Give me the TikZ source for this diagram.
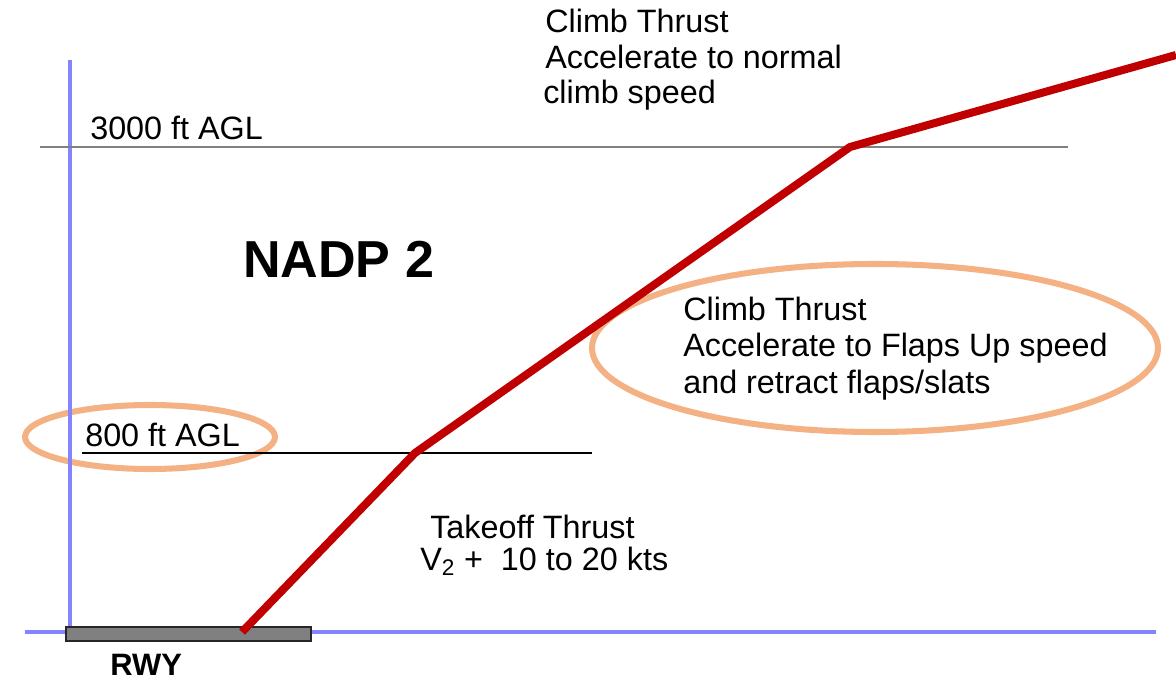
\documentclass[tikz,border=0pt]{standalone}
\usepackage{fontspec}
\setmainfont{Liberation Sans}
\definecolor{axisblue}{HTML}{8484FF}
\definecolor{pathred}{HTML}{C00000}
\definecolor{ringorange}{HTML}{F4B183}
\begin{document}
\begin{tikzpicture}[x=0.025cm, y=-0.025cm,
    txt/.style={anchor=base west, inner sep=0, font=\fontsize{23}{27}\selectfont},
    ring/.style={draw=ringorange, line width=4.3pt}]
    \useasboundingbox (0,0) rectangle (1176,681);

    % highlight rings
    \draw[ring] (150,437) ellipse [x radius=125, y radius=32];
    \draw[ring] (875,348) ellipse [x radius=283, y radius=84];

    % axes
    \draw[axisblue, line width=2.8pt] (70,60) -- (70,632);
    \draw[axisblue, line width=2.8pt] (25,632) -- (1156,632);

    % runway
    \draw[fill=gray, draw=black!85, line width=1.6pt] (66,627) rectangle (311,641);
    \node[txt, font=\fontsize{22}{26}\selectfont\bfseries] (rwy) at (110,675) {RWY};

    % altitude lines
    \draw[gray, line width=2pt] (40,147) -- (1068,147);
    \draw[black, line width=1.3pt] (82,453) -- (592,453);
    \node[txt] (agl3000) at (90,140) {3000 ft AGL};
    \node[txt] (agl800) at (85,446) {800 ft AGL};

    \node[txt, font=\fontsize{37}{41}\selectfont\bfseries] (nadp) at (243,278) {NADP 2};

    \node[txt] (climbA) at (545,33) {Climb Thrust};
    \node[txt] (climbB) at (545,69) {Accelerate to normal};
    \node[txt] (climbC) at (543,104) {climb speed};

    \node[txt] (flapsA) at (683,321) {Climb Thrust};
    \node[txt] (flapsB) at (683,357) {Accelerate to Flaps Up speed};
    \node[txt] (flapsC) at (683,393) {and retract flaps/slats};

    \node[txt] (takeoffA) at (430,538) {Takeoff Thrust};
    \node[txt] (takeoffB) at (420,570) {V\textsubscript{2}\ +\ \ 10 to 20 kts};

    % flight path
    \coordinate (brake) at (242,632);
    \coordinate (p800) at (415,453);
    \coordinate (p3000) at (850,147);
    \coordinate (exit) at (1176,55);
    \draw[pathred, line width=5.7pt, line join=round] (brake) -- (p800) -- (p3000) -- (exit);
\end{tikzpicture}
\end{document}
